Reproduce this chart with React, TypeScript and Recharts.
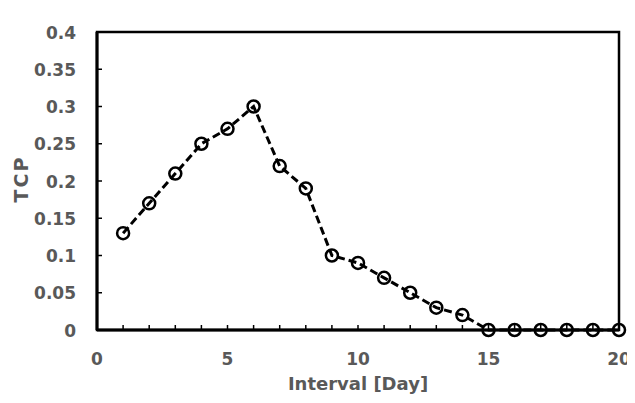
import React from 'react';
import { LineChart, Line, XAxis, YAxis, ReferenceArea } from 'recharts';

const intervals = [1, 2, 3, 4, 5, 6, 7, 8, 9, 10, 11, 12, 13, 14, 15, 16, 17, 18, 19, 20];
const tcpValues = [0.13, 0.17, 0.21, 0.25, 0.27, 0.3, 0.22, 0.19, 0.1, 0.09, 0.07, 0.05, 0.03, 0.02, 0, 0, 0, 0, 0, 0];
const xTicks = [0, 1, 2, 3, 4, 5, 6, 7, 8, 9, 10, 11, 12, 13, 14, 15, 16, 17, 18, 19, 20];
const xLabelTicks = [0, 5, 10, 15, 20];
const yTicks = [0, 0.05, 0.1, 0.15, 0.2, 0.25, 0.3, 0.35, 0.4];
const yTickLabels = ['0', '0.05', '0.1', '0.15', '0.2', '0.25', '0.3', '0.35', '0.4'];

const data = intervals.map((x, i) => ({ x, tcp: tcpValues[i] }));

const FONT = '"DejaVu Sans", "Noto Sans", sans-serif';
const GRAY = '#595959';

const XTick = (props: any) => {
  const { x, y, payload } = props;
  const showLabel = xLabelTicks.includes(payload.value);
  return (
    <g>
      <line x1={x} y1={y} x2={x} y2={y - 5} stroke="#000" strokeWidth={1.5} />
      {showLabel && (
        <text x={x} y={y + 35} textAnchor="middle" fill={GRAY} fontSize={17} fontWeight="bold" fontFamily={FONT}>
          {payload.value}
        </text>
      )}
    </g>
  );
};

const YTick = (props: any) => {
  const { x, y, payload } = props;
  const idx = yTicks.findIndex((t) => Math.abs(t - payload.value) < 1e-9);
  return (
    <g>
      <line x1={x} y1={y} x2={x + 5} y2={y} stroke="#000" strokeWidth={1.5} />
      <text x={x - 21} y={y + 6.5} textAnchor="end" fill={GRAY} fontSize={17} fontWeight="bold" fontFamily={FONT}>
        {idx >= 0 ? yTickLabels[idx] : payload.value}
      </text>
    </g>
  );
};

export default function App() {
  return (
    <div style={{ position: 'relative', width: 627, height: 395 }}>
      <div style={{ position: 'absolute', left: -1, top: 0, width: 0, height: 389, borderLeft: '1px solid #d9d9d9' }} />
      <LineChart width={627} height={395} data={data} margin={{ top: 24, right: 16, left: 0, bottom: 13 }}>
        <ReferenceArea x1={0} x2={20} y1={0} y2={0.4} stroke="#000" strokeWidth={2.5} fill="none" ifOverflow="visible" />
        <XAxis
          dataKey="x"
          type="number"
          domain={[0, 20]}
          ticks={xTicks}
          interval={0}
          height={60}
          axisLine={{ stroke: '#000', strokeWidth: 3 }}
          tickLine={false}
          tickSize={0}
          tickMargin={0}
          tick={<XTick />}
          label={{
            content: (p: any) => {
              const vb = p.viewBox;
              return (
                <text x={vb.x + vb.width / 2} y={vb.y + 60} textAnchor="middle" fill={GRAY} fontSize={18} fontWeight="bold" fontFamily={FONT}>
                  Interval [Day]
                </text>
              );
            },
          }}
        />
        <YAxis
          type="number"
          domain={[0, 0.4]}
          ticks={yTicks}
          interval={0}
          width={89}
          axisLine={{ stroke: '#000', strokeWidth: 3 }}
          tickLine={false}
          tickSize={0}
          tickMargin={0}
          tick={<YTick />}
          label={{
            content: (p: any) => {
              const vb = p.viewBox;
              const cx = vb.x + 20;
              const cy = vb.y + vb.height / 2 - 2;
              return (
                <text x={cx} y={cy} transform={`rotate(-90 ${cx} ${cy})`} textAnchor="middle" fill={GRAY} fontSize={19} fontWeight="bold" fontFamily={FONT} letterSpacing={2}>
                  TCP
                </text>
              );
            },
          }}
        />
        <Line
          type="linear"
          dataKey="tcp"
          stroke="#000"
          strokeWidth={3}
          strokeDasharray="8 4"
          dot={{ r: 6, stroke: '#000', strokeWidth: 2.5, fill: 'none', strokeDasharray: '' }}
          isAnimationActive={false}
        />
      </LineChart>
    </div>
  );
}
